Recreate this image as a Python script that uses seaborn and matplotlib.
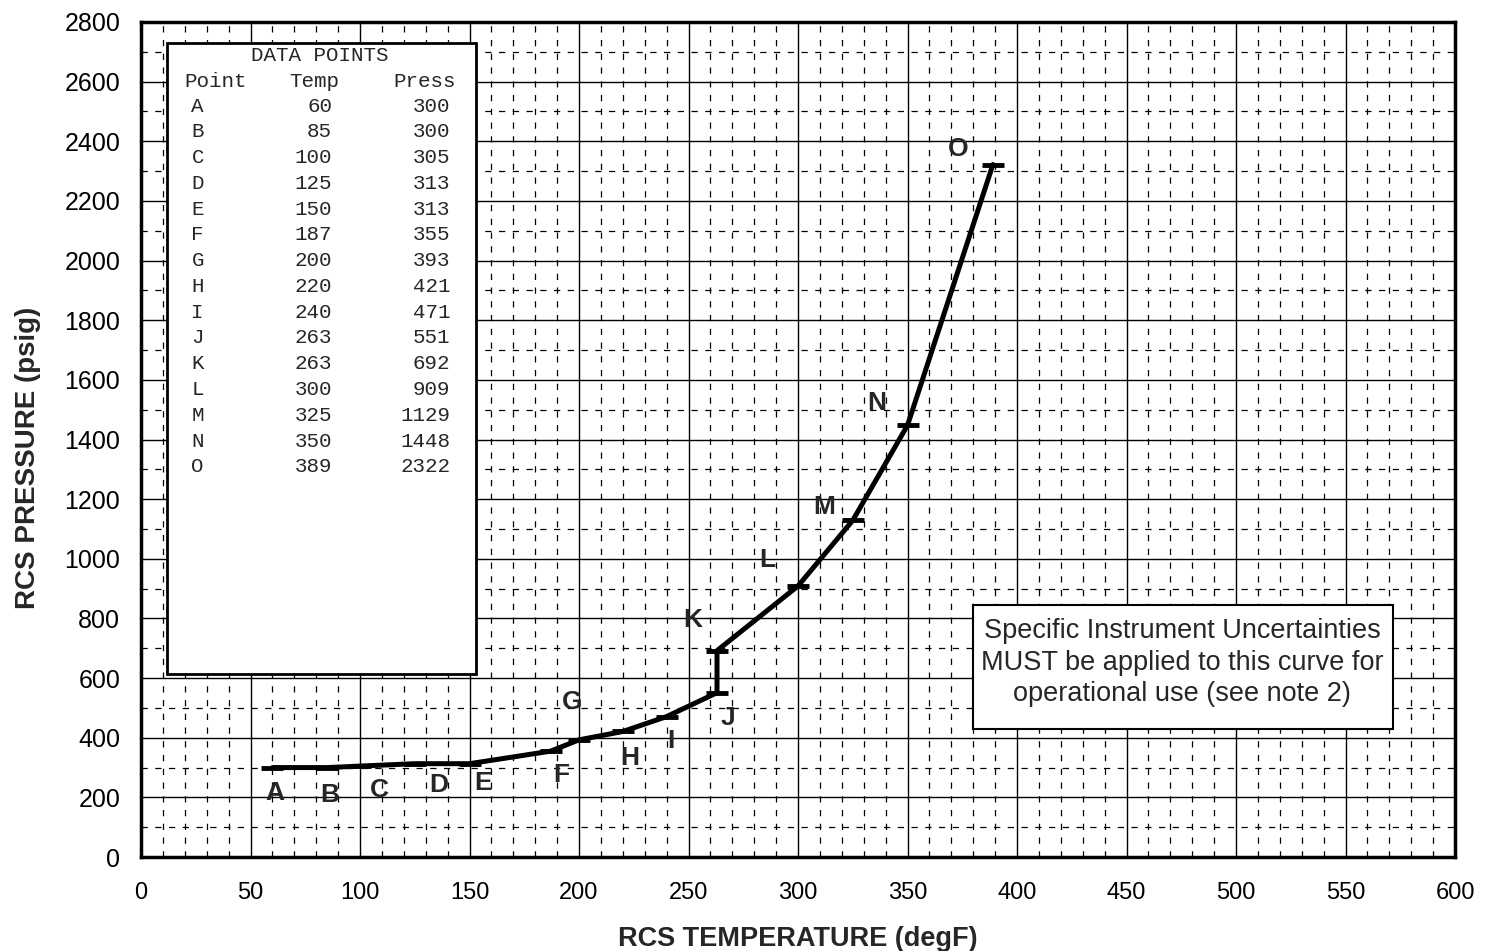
import numpy as np
import pandas as pd
import seaborn as sns
import matplotlib.pyplot as plt
from matplotlib.ticker import MultipleLocator
from matplotlib.patches import Rectangle

# Data points (from the table on the chart)
points = ['A', 'B', 'C', 'D', 'E', 'F', 'G', 'H', 'I', 'J', 'K', 'L', 'M', 'N', 'O']
temps = [60, 85, 100, 125, 150, 187, 200, 220, 240, 263, 263, 300, 325, 350, 389]
press = [300, 300, 305, 313, 313, 355, 393, 421, 471, 551, 692, 909, 1129, 1448, 2322]

# where the letter labels sit next to the curve
label_x = [61, 86, 109, 136, 156, 192, 197, 223, 242, 268, 252, 286, 312, 336, 373]
label_y = [215, 208, 225, 241, 248, 275, 520, 332, 389, 466, 795, 996, 1174, 1522, 2374]

note_text = "Specific Instrument Uncertainties\nMUST be applied to this curve for\noperational use (see note 2)"

df = pd.DataFrame({'Point': points, 'Temp': temps, 'Press': press})

sns.set_style("white")
plt.rcParams['font.family'] = ['Liberation Sans', 'DejaVu Sans']

fig = plt.figure(figsize=(14.96, 9.51), dpi=100)
ax = fig.add_axes([0.0943, 0.0988, 0.8783, 0.8781])

ax.set_xlim(0, 600)
ax.set_ylim(0, 2800)
ax.xaxis.set_major_locator(MultipleLocator(50))
ax.yaxis.set_major_locator(MultipleLocator(200))
ax.xaxis.set_minor_locator(MultipleLocator(10))
ax.yaxis.set_minor_locator(MultipleLocator(100))
ax.grid(which='major', color='black', linewidth=1.0)
ax.grid(which='minor', color='black', linewidth=0.9, linestyle=(0, (5, 6)))
ax.set_axisbelow(True)

for s in ax.spines.values():
    s.set_linewidth(2.5)
    s.set_color('black')

ax.tick_params(which='major', direction='out', length=4, width=1, colors='black')
ax.tick_params(axis='y', labelsize=18, pad=11)
ax.tick_params(axis='x', labelsize=17, pad=14)
ax.tick_params(which='minor', length=0)

# the curve
sns.lineplot(data=df, x='Temp', y='Press', sort=False, estimator=None,
             color='black', linewidth=3.6, ax=ax, zorder=5)
ax.plot(temps, press, linestyle='none', marker='_', markersize=16, mew=3.5,
        color='black', zorder=6)

for lab, lx, ly in zip(points, label_x, label_y):
    ax.text(lx, ly, lab, fontsize=19, fontweight='bold', ha='center', va='center', zorder=7)

ax.set_xlabel('RCS TEMPERATURE (degF)', fontsize=19.5, fontweight='bold', labelpad=16)
ax.set_ylabel('RCS PRESSURE (psig)', fontsize=20, fontweight='bold')
ax.yaxis.set_label_coords(-0.076, 0.478)

# data points table box
ax.add_patch(Rectangle((12, 614), 141, 2116, facecolor='white', edgecolor='black',
                       linewidth=2, zorder=8))
mono = ['Liberation Mono', 'DejaVu Sans Mono']
fs = 15
ax.text(81.7, 2686, 'DATA POINTS', family=mono, fontsize=fs, ha='center', va='center', zorder=9)
ax.text(20, 2602, 'Point', family=mono, fontsize=fs, ha='left', va='center', zorder=9)
ax.text(67.6, 2602, 'Temp', family=mono, fontsize=fs, ha='left', va='center', zorder=9)
ax.text(115, 2602, 'Press', family=mono, fontsize=fs, ha='left', va='center', zorder=9)
row_h = 86.4
for i, (p, t, pr) in enumerate(zip(points, temps, press)):
    yy = 2518 - i * row_h
    ax.text(23, yy, p, family=mono, fontsize=fs, ha='left', va='center', zorder=9)
    ax.text(87.2, yy, str(t), family=mono, fontsize=fs, ha='right', va='center', zorder=9)
    ax.text(141.1, yy, str(pr), family=mono, fontsize=fs, ha='right', va='center', zorder=9)

# note box
ax.add_patch(Rectangle((380, 428), 191.5, 416, facecolor='white', edgecolor='black',
                       linewidth=1.5, zorder=8))
ax.text(475.5, 652, note_text, fontsize=19.5, ha='center', va='center',
        linespacing=1.28, zorder=9)

fig.savefig('out.png', dpi=100)
